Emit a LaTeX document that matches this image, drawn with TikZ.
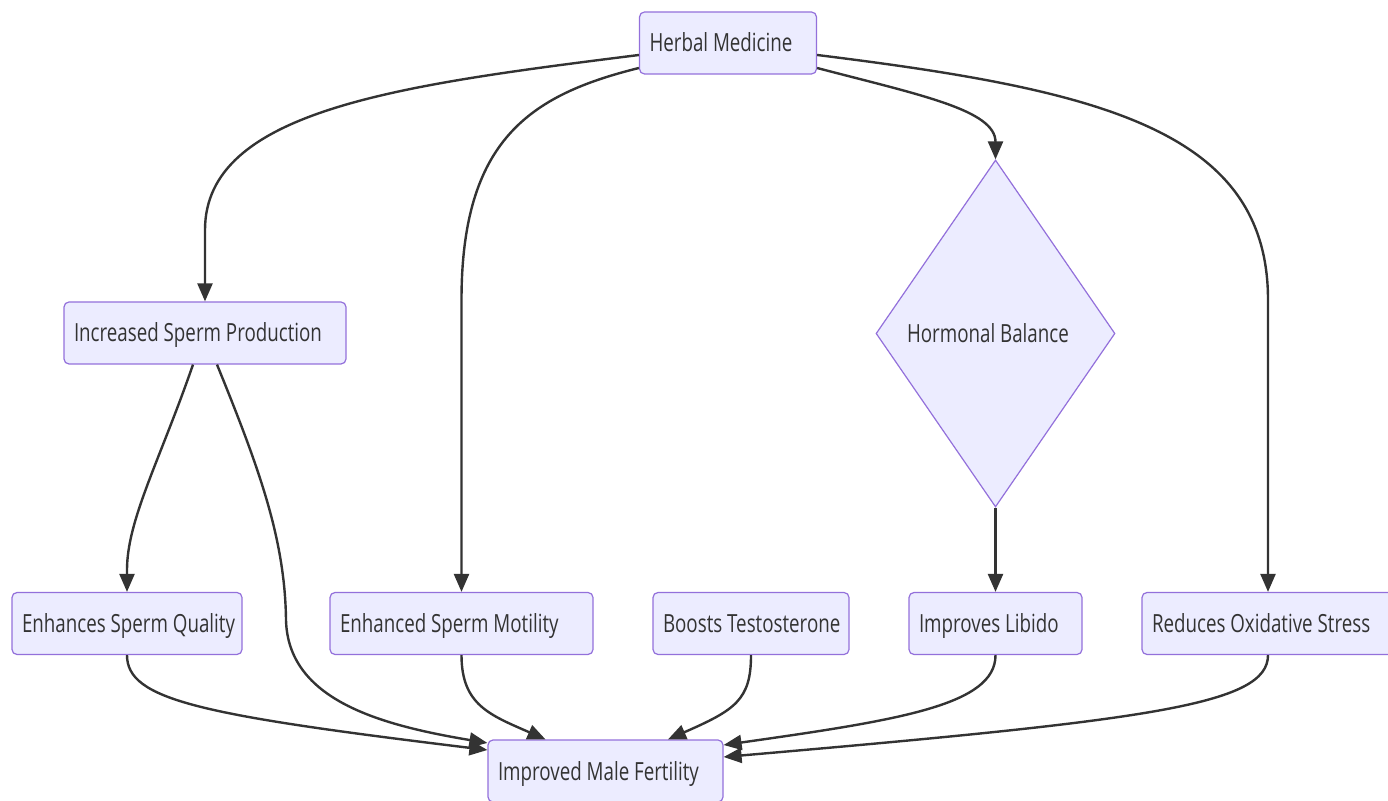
\documentclass[tikz,border=0pt]{standalone}
\usepackage{fontspec}
\setmainfont[FakeStretch=0.75]{Open Sans}
\usetikzlibrary{shapes.geometric,arrows.meta}
\definecolor{boxfill}{HTML}{ECECFF}
\definecolor{boxline}{HTML}{9370DB}
\definecolor{edgeline}{HTML}{333333}
\newcommand{\boxtext}[2]{\makebox[#1pt][l]{\raisebox{-3pt}[\height][\depth]{\strut #2}}}

\begin{document}
\begin{tikzpicture}[x=1pt,y=1pt,
	box/.style={draw=boxline,fill=boxfill,line width=1.2pt,rounded corners=5pt,
		minimum height=62pt,inner xsep=10pt,inner ysep=0pt,text=edgeline,
		font=\fontsize{25}{30}\selectfont},
	choice/.style={diamond,draw=boxline,fill=boxfill,line width=1.2pt,
		minimum width=239pt,minimum height=347pt,inner sep=0pt,text=edgeline,
		font=\fontsize{25}{30}\selectfont},
	edge/.style={draw=edgeline,line width=2.4pt,-{Triangle[length=18pt,width=15pt]}}]
	\useasboundingbox (0,0) rectangle (1388,800);

	% nodes
	\node[box] (hm) at (728,757) {\boxtext{157}{Herbal Medicine}};
	\node[box] (isp) at (205,467) {\boxtext{262}{Increased Sperm Production}};
	\node[choice] (hb) at (995.5,466.5) {\boxtext{177}{Hormonal Balance}};
	\node[box] (esq) at (127,176.5) {\boxtext{210}{Enhances Sperm Quality}};
	\node[box] (esm) at (461.5,176.5) {\boxtext{243}{Enhanced Sperm Motility}};
	\node[box] (bt) at (751,176.5) {\boxtext{176}{Boosts Testosterone}};
	\node[box] (il) at (995.5,176.5) {\boxtext{153}{Improves Libido}};
	\node[box] (ros) at (1268,176.5) {\boxtext{232}{Reduces Oxidative Stress}};
	\node[box] (imf) at (605.5,29) {\boxtext{215}{Improved Male Fertility}};

	% from the top
	\draw[edge] ([yshift=-12pt]hm.west) .. controls (400,715) and (205,690) .. (205,570) -- (isp.north);
	\draw[edge] ([yshift=-25pt]hm.west) .. controls (530,705) and (461.5,660) .. (461.5,500) -- (esm.north);
	\draw[edge] ([yshift=-25pt]hm.east) .. controls (920,705) and (995.5,690) .. (hb.north);
	\draw[edge] ([yshift=-12pt]hm.east) .. controls (1100,710) and (1268,670) .. (1268,500) -- (ros.north);

	% middle row
	\draw[edge] ([xshift=-12pt]isp.south) .. controls (160,340) and (127,280) .. (127,230) -- (esq.north);
	\draw[edge] ([xshift=12pt]isp.south) .. controls (260,330) and (285,260) .. (286,180)
		.. controls (288,100) and (380,75) .. ([yshift=28pt]imf.west);
	\draw[edge] (hb.south) -- (il.north);

	% into the bottom box
	\draw[edge] (esq.south) .. controls (127,100) and (200,85) .. ([yshift=21pt]imf.west);
	\draw[edge] (esm.south) .. controls (461.5,95) and (490,85) .. ([xshift=-60pt]imf.north);
	\draw[edge] (bt.south) .. controls (751,100) and (735,90) .. ([xshift=62.5pt]imf.north);
	\draw[edge] (il.south) .. controls (995.5,95) and (900,80) .. ([yshift=26pt]imf.east);
	\draw[edge] (ros.south) .. controls (1268,95) and (1150,80) .. ([yshift=14pt]imf.east);
\end{tikzpicture}
\end{document}
